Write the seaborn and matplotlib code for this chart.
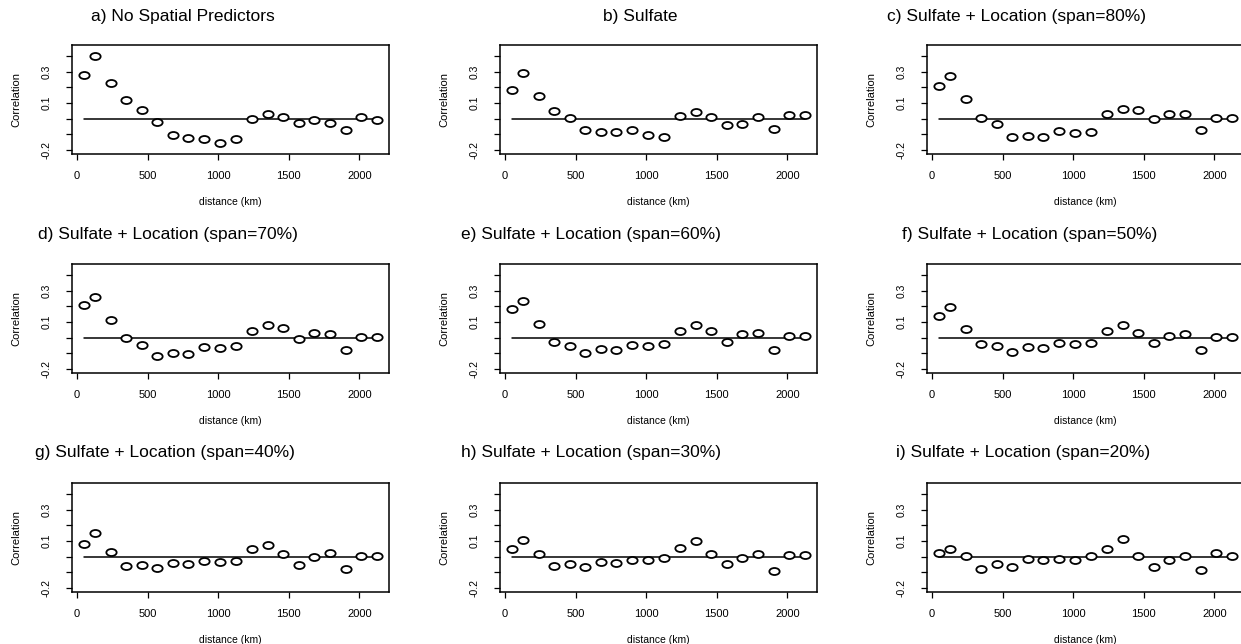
import numpy as np
import matplotlib
matplotlib.use("Agg")
import matplotlib.pyplot as plt
import seaborn as sns
from matplotlib.path import Path
from matplotlib.transforms import Affine2D

# ======= data =======
distance = [50, 130, 240, 350, 460, 570, 680, 790, 900, 1010,
            1125, 1240, 1350, 1460, 1570, 1680, 1790, 1905, 2015, 2125]

titles = [
    "a) No Spatial Predictors",
    "b) Sulfate",
    "c) Sulfate + Location (span=80%)",
    "d) Sulfate + Location (span=70%)",
    "e) Sulfate + Location (span=60%)",
    "f) Sulfate + Location (span=50%)",
    "g) Sulfate + Location (span=40%)",
    "h) Sulfate + Location (span=30%)",
    "i) Sulfate + Location (span=20%)",
]

corr_a = [0.28, 0.40, 0.23, 0.12, 0.055, -0.02, -0.105, -0.12, -0.13, -0.155,
          -0.13, 0.0, 0.03, 0.013, -0.03, -0.01, -0.027, -0.07, 0.013, -0.01]
corr_b = [0.18, 0.29, 0.147, 0.047, 0.006, -0.072, -0.085, -0.085, -0.074, -0.104,
          -0.115, 0.017, 0.04, 0.013, -0.043, -0.032, 0.013, -0.068, 0.026, 0.023]
corr_c = [0.21, 0.27, 0.124, 0.006, -0.036, -0.116, -0.112, -0.118, -0.076, -0.088,
          -0.082, 0.03, 0.065, 0.057, -0.004, 0.032, 0.032, -0.072, 0.006, 0.004]
corr_d = [0.21, 0.26, 0.114, -0.004, -0.046, -0.116, -0.099, -0.101, -0.057, -0.063,
          -0.055, 0.04, 0.08, 0.059, -0.01, 0.027, 0.021, -0.08, 0.006, 0.006]
corr_e = [0.185, 0.234, 0.088, -0.026, -0.054, -0.099, -0.073, -0.08, -0.045, -0.052,
          -0.043, 0.043, 0.084, 0.045, -0.026, 0.022, 0.028, -0.077, 0.009, 0.009]
corr_f = [0.14, 0.195, 0.057, -0.042, -0.05, -0.089, -0.057, -0.065, -0.036, -0.04,
          -0.036, 0.04, 0.078, 0.03, -0.036, 0.011, 0.021, -0.078, 0.004, 0.006]
corr_g = [0.084, 0.153, 0.032, -0.058, -0.05, -0.072, -0.04, -0.045, -0.026, -0.032,
          -0.028, 0.046, 0.075, 0.02, -0.05, 0.0, 0.024, -0.08, 0.006, 0.006]
corr_h = [0.049, 0.104, 0.019, -0.062, -0.045, -0.068, -0.036, -0.04, -0.021, -0.019,
          -0.009, 0.055, 0.1, 0.019, -0.047, -0.011, 0.015, -0.091, 0.011, 0.009]
corr_i = [0.024, 0.048, 0.007, -0.078, -0.048, -0.065, -0.017, -0.022, -0.015, -0.022,
          0.002, 0.048, 0.11, 0.004, -0.067, -0.024, 0.007, -0.083, 0.024, 0.007]

y_ticks = [-0.2, -0.1, 0.0, 0.1, 0.2, 0.3, 0.4]
y_ticklabels = ["-0.2", "", "", "0.1", "", "0.3", ""]
x_ticks = [0, 500, 1000, 1500, 2000]

all_corr = [corr_a, corr_b, corr_c, corr_d, corr_e, corr_f, corr_g, corr_h, corr_i]

# ======= layout (pixels on the 1241x644 canvas) =======
W, H = 1241, 644
col_left = [72, 500, 927]
row_top = [45, 264, 483]
ax_w, ax_h = 317, 109
title_pos = [(183, 17), (640, 17), (1017, 17),
             (168, 235), (591, 235), (1030, 235),
             (165, 452), (591, 452), (1023, 452)]

sns.set_style("ticks")
plt.rcParams["font.family"] = ["Liberation Sans", "DejaVu Sans"]
plt.rcParams["text.color"] = "black"
plt.rcParams["axes.labelcolor"] = "black"
plt.rcParams["xtick.color"] = "black"
plt.rcParams["ytick.color"] = "black"

# flattened open circle, like the S-Plus "o"
ellipse = Path.unit_circle().transformed(Affine2D().scale(1.0, 0.68))

fig = plt.figure(figsize=(W / 100, H / 100), dpi=100)

for k, corr in enumerate(all_corr):
    r, c = divmod(k, 3)
    left = col_left[c] / W
    bottom = 1 - (row_top[r] + ax_h) / H
    ax = fig.add_axes([left, bottom, ax_w / W, ax_h / H])

    ax.plot([distance[0], distance[-1]], [0, 0], color="black", lw=1.1, zorder=1)
    sns.scatterplot(x=distance, y=corr, ax=ax, marker=ellipse, s=55,
                    facecolor="white", edgecolor="black", linewidth=1.3, zorder=2)

    ax.set_xlim(-35, 2210)
    ax.set_ylim(-0.225, 0.47)
    ax.set_xticks(x_ticks)
    ax.set_xticklabels([str(t) for t in x_ticks], fontsize=8)
    ax.set_yticks(y_ticks)
    ax.set_yticklabels(y_ticklabels, fontsize=7.5, rotation=90, va="center")
    ax.tick_params(axis="x", length=4, width=0.9, pad=8)
    ax.tick_params(axis="y", length=4, width=0.9, pad=11)
    for sp in ax.spines.values():
        sp.set_visible(True)
        sp.set_linewidth(1.1)
        sp.set_color("black")

    ax.set_xlabel("distance (km)", fontsize=7.5, labelpad=12)
    ax.set_ylabel("Correlation", fontsize=8, labelpad=14)

    tx, ty = title_pos[k]
    fig.text(tx / W, 1 - ty / H, titles[k], ha="center", va="center", fontsize=12.5)

fig.savefig("out.png", dpi=100)
